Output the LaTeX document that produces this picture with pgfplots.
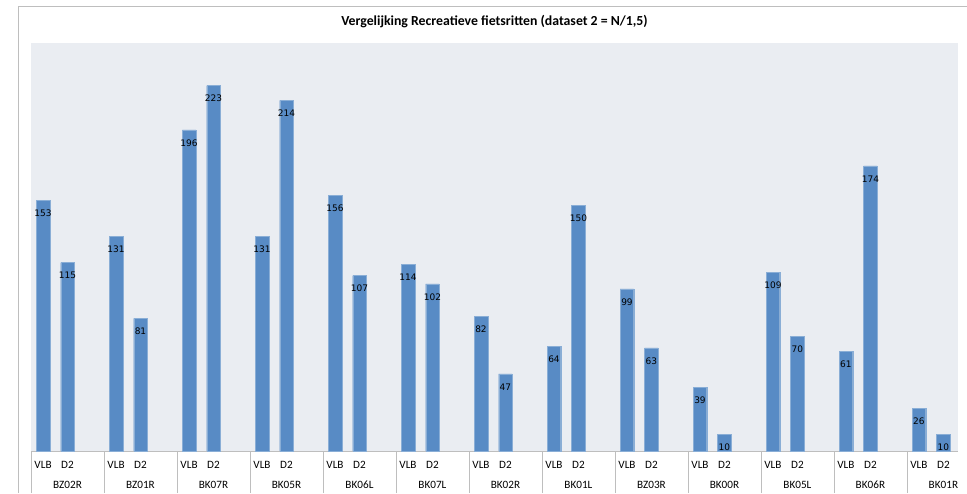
\documentclass[border=0pt]{standalone}
\usepackage{fontspec}
\setmainfont{Carlito}
\newfontfamily\dejavu{DejaVu Sans}
\usepackage{pgfplots}
\usepackage{pgfplotstable}
\pgfplotsset{compat=1.18}

\definecolor{plotbg}{RGB}{234,237,242}
\definecolor{barblue}{RGB}{88,139,197}
\definecolor{framegray}{RGB}{190,190,190}

% g = group index, v = value
\pgfplotstableread{
g v
0 153
1 131
2 196
3 131
4 156
5 114
6 82
7 64
8 99
9 39
10 109
11 61
12 26
}\vlb
\pgfplotstableread{
g v
0 115
1 81
2 223
3 214
4 107
5 102
6 47
7 150
8 63
9 10
10 70
11 174
12 10
}\dtwo

\begin{document}
\begin{tikzpicture}[x=1pt,y=1pt]
\useasboundingbox (0,0) rectangle (967,493);
\draw[framegray] (18,0) -- (18,487) -- (967,487);
\begin{axis}[
    at={(31pt,42pt)}, anchor=south west,
    scale only axis, width=927pt, height=408pt,
    xmin=0, xmax=12.7, ymin=0, ymax=249,
    axis background/.style={fill=plotbg},
    axis y line=none, axis x line=bottom,
    x axis line style={-, draw=framegray},
    title={Vergelijking Recreatieve fietsritten (dataset 2 = N/1,5)},
    title style={font=\bfseries\fontsize{13.8}{16}\selectfont, at={(axis description cs:0.5,1)}, anchor=center, yshift=15pt},
    xtick={0.165,0.5,1.165,1.5,2.165,2.5,3.165,3.5,4.165,4.5,5.165,5.5,6.165,6.5,7.165,7.5,8.165,8.5,9.165,9.5,10.165,10.5,11.165,11.5,12.165,12.5},
    xticklabels={VLB,D2,VLB,D2,VLB,D2,VLB,D2,VLB,D2,VLB,D2,VLB,D2,VLB,D2,VLB,D2,VLB,D2,VLB,D2,VLB,D2,VLB,D2},
    extra x ticks={0.5,1.5,2.5,3.5,4.5,5.5,6.5,7.5,8.5,9.5,10.5,11.5,12.5},
    extra x tick labels={BZ02R,BZ01R,BK07R,BK05R,BK06L,BK07L,BK02R,BK01L,BZ03R,BK00R,BK05L,BK06R,BK01R},
    extra x tick style={major tick length=0pt, tick label style={yshift=-20pt}},
    major tick length=0pt,
    minor xtick={0,1,2,3,4,5,6,7,8,9,10,11,12},
    minor tick length=42pt,
    tick align=outside,
    minor tick style={draw=framegray},
    tick label style={font=\fontsize{11.2}{13}\selectfont, anchor=center, yshift=-14pt},
    bar width=0.185,
    nodes near coords,
    /pgf/number format/assume math mode=true,
    every node near coord/.append style={font=\dejavu\fontsize{9}{10}\selectfont, anchor=center, yshift=-13pt, text=black},
    clip=false,
]
\addplot[ybar, bar shift=0pt, fill=barblue, draw=barblue!70!white] table[x expr=\thisrow{g}+0.165, y=v] {\vlb};
\addplot[ybar, bar shift=0pt, fill=barblue, draw=barblue!70!white] table[x expr=\thisrow{g}+0.5, y=v] {\dtwo};
\end{axis}
\end{tikzpicture}
\end{document}
